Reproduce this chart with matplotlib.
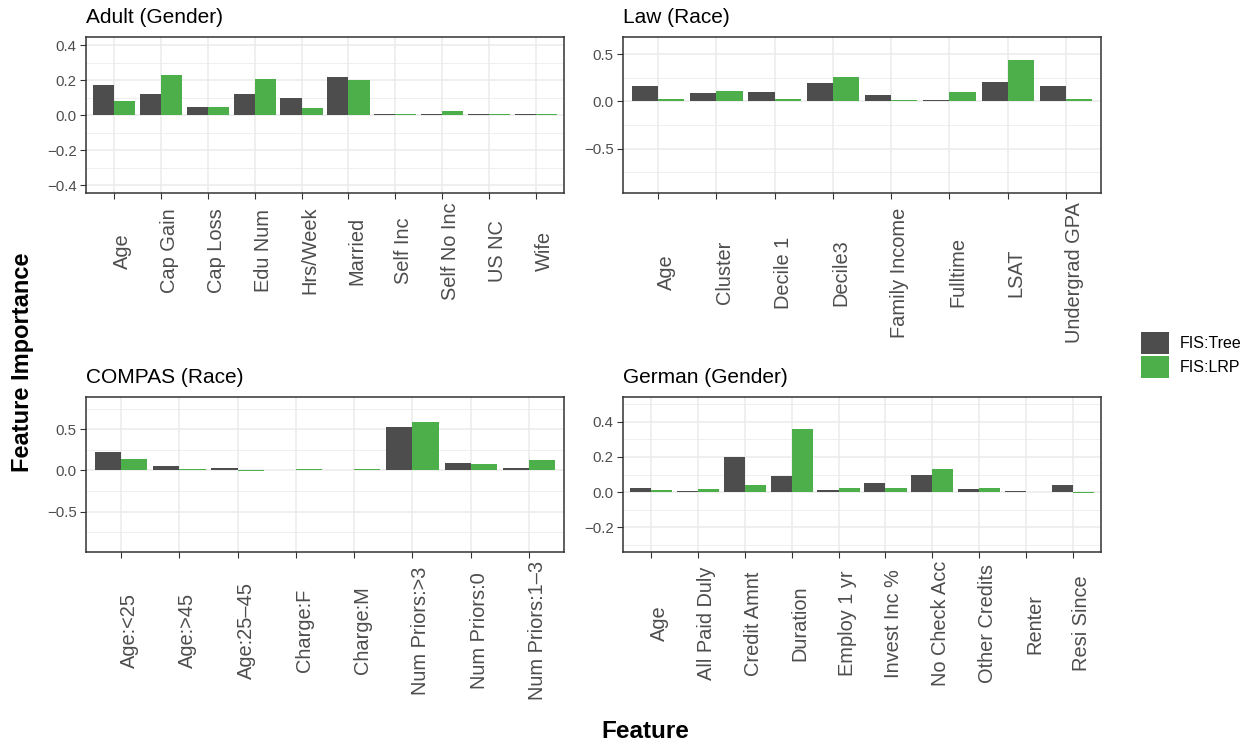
import numpy as np
import matplotlib
matplotlib.use('Agg')
import matplotlib.pyplot as plt
import matplotlib.transforms as mtransforms
from matplotlib.patches import Patch
from matplotlib.ticker import FixedLocator, FuncFormatter

plt.rcParams['font.family'] = ['Liberation Sans', 'DejaVu Sans']

# data
adult_feats = ['Age', 'Cap Gain', 'Cap Loss', 'Edu Num', 'Hrs/Week', 'Married',
               'Self Inc', 'Self No Inc', 'US NC', 'Wife']
adult_tree = [0.173, 0.122, 0.047, 0.122, 0.099, 0.219, 0.009, 0.009, 0.009, 0.009]
adult_lrp = [0.082, 0.230, 0.047, 0.207, 0.042, 0.202, 0.004, 0.025, 0.004, 0.008]

law_feats = ['Age', 'Cluster', 'Decile 1', 'Decile3', 'Family Income', 'Fulltime',
             'LSAT', 'Undergrad GPA']
law_tree = [0.162, 0.088, 0.098, 0.193, 0.067, 0.012, 0.204, 0.162]
law_lrp = [0.025, 0.109, 0.025, 0.257, 0.016, 0.098, 0.436, 0.025]

compas_feats = ['Age:<25', 'Age:>45', 'Age:25\u201345', 'Charge:F', 'Charge:M',
                'Num Priors:>3', 'Num Priors:0', 'Num Priors:1\u20133']
compas_tree = [0.230, 0.060, 0.036, 0.012, 0.012, 0.530, 0.085, 0.036]
compas_lrp = [0.145, 0.014, -0.010, 0.024, 0.024, 0.590, 0.073, 0.133]

german_feats = ['Age', 'All Paid Duly', 'Credit Amnt', 'Duration', 'Employ 1 yr',
                'Invest Inc %', 'No Check Acc', 'Other Credits', 'Renter', 'Resi Since']
german_tree = [0.023, 0.005, 0.200, 0.091, 0.011, 0.051, 0.097, 0.017, 0.005, 0.040]
german_lrp = [0.010, 0.017, 0.040, 0.359, 0.023, 0.023, 0.131, 0.023, 0.003, -0.004]

# styling
TREE_C = '#4D4D4D'
LRP_C = '#4DAF4A'
TXT = '#4D4D4D'
W, H = 1257, 745

fig = plt.figure(figsize=(W / 100, H / 100), dpi=100)


def px_axes(left, top, right, bottom):
    return fig.add_axes([left / W, 1 - bottom / H, (right - left) / W, (bottom - top) / H])


def fmt(v, pos):
    s = '%.1f' % v
    if s == '-0.0':
        s = '0.0'
    return s.replace('-', '\u2212')


def draw_panel(ax, title, feats, tree, lrp, ylim, major, minor):
    x = np.arange(len(feats))
    w = 0.45
    ax.bar(x - w / 2, tree, w, color=TREE_C, zorder=3, linewidth=0)
    ax.bar(x + w / 2, lrp, w, color=LRP_C, zorder=3, linewidth=0)
    ax.set_xlim(-0.6, len(feats) - 0.4)
    ax.set_ylim(*ylim)
    ax.set_xticks(x)
    ax.set_xticklabels([])
    ax.yaxis.set_major_locator(FixedLocator(major))
    ax.yaxis.set_minor_locator(FixedLocator(minor))
    ax.yaxis.set_major_formatter(FuncFormatter(fmt))
    ax.grid(which='major', color='#EBEBEB', linewidth=1.1, zorder=0)
    ax.grid(which='minor', axis='y', color='#EBEBEB', linewidth=0.55, zorder=0)
    ax.set_axisbelow(True)
    ax.tick_params(which='major', length=4, width=0.8, color='#333333',
                   labelsize=10.8, labelcolor=TXT, pad=2.8)
    ax.tick_params(which='minor', length=0)
    for sp in ax.spines.values():
        sp.set_color('#333333')
        sp.set_linewidth(1.1)
    ax.text(0, 1, title, transform=mtransforms.offset_copy(ax.transAxes, fig=fig, x=0, y=14, units='dots'),
            fontsize=15, va='baseline', ha='left', color='black')

    # rotated category labels, centred on the longest one
    texts = []
    for i, f in enumerate(feats):
        t = ax.text(i, 0, f, rotation=90, rotation_mode='anchor', ha='center', va='baseline',
                    fontsize=14.4, color=TXT, transform=ax.get_xaxis_transform(), clip_on=False)
        texts.append(t)
    fig.canvas.draw()
    r = fig.canvas.get_renderer()
    longest = max(t.get_window_extent(r).height for t in texts)
    tr = mtransforms.offset_copy(ax.get_xaxis_transform(), fig=fig, x=14, y=-(9 + longest / 2), units='dots')
    for t in texts:
        t.set_transform(tr)


ax1 = px_axes(86, 37, 564, 193)
draw_panel(ax1, 'Adult (Gender)', adult_feats, adult_tree, adult_lrp, (-0.444, 0.446),
           [-0.4, -0.2, 0.0, 0.2, 0.4], [-0.3, -0.1, 0.1, 0.3])

ax2 = px_axes(623, 37, 1101, 193)
draw_panel(ax2, 'Law (Race)', law_feats, law_tree, law_lrp, (-0.968, 0.68),
           [-0.5, 0.0, 0.5], [-0.75, -0.25, 0.25])

ax3 = px_axes(86, 397, 564, 552)
draw_panel(ax3, 'COMPAS (Race)', compas_feats, compas_tree, compas_lrp, (-0.987, 0.89),
           [-0.5, 0.0, 0.5], [-0.75, -0.25, 0.25, 0.75])

ax4 = px_axes(623, 397, 1101, 552)
draw_panel(ax4, 'German (Gender)', german_feats, german_tree, german_lrp, (-0.34, 0.54),
           [-0.2, 0.0, 0.2, 0.4], [-0.3, -0.1, 0.1, 0.3, 0.5])

# shared axis titles
fig.text(22.5 / W, 1 - 362 / H, 'Feature Importance', rotation=90, fontsize=17,
         fontweight='bold', ha='center', va='center')
fig.text(645.5 / W, 1 - 731 / H, 'Feature', fontsize=17.5, fontweight='bold',
         ha='center', va='center')

# legend
handles = [Patch(facecolor=TREE_C, edgecolor='none'), Patch(facecolor=LRP_C, edgecolor='none')]
fig.legend(handles, ['FIS:Tree', 'FIS:LRP'], loc='upper left',
           bbox_to_anchor=(1141 / W, 1 - 332 / H), frameon=False, fontsize=11.5,
           handlelength=1.75, handleheight=1.75, labelspacing=0.13, handletextpad=0.68,
           borderpad=0, borderaxespad=0)

plt.savefig('out.png', dpi=100)
